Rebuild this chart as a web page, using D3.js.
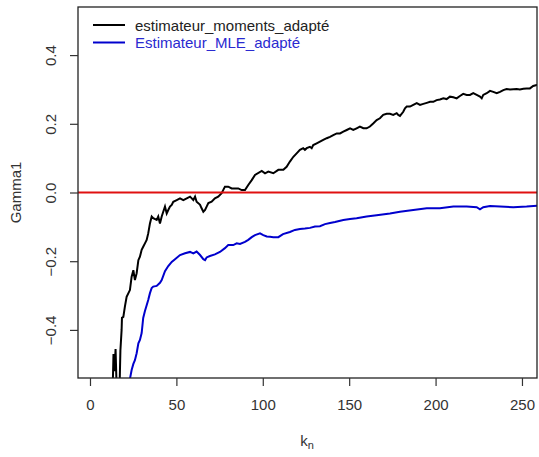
<!DOCTYPE html>
<html>
<head>
<meta charset="utf-8">
<script src="https://cdn.jsdelivr.net/npm/d3@7"></script>
<style>
  body { margin: 0; background: #fff; }
  svg { font-family: "Liberation Sans", Arial, sans-serif; }
</style>
</head>
<body>
<svg id="chart" width="539" height="457"></svg>
<script>

// k values and gamma estimates
var kMoments = [13.0, 13.6, 14.2, 14.8, 15.6, 16.4, 17.2, 17.6, 18.3, 18.5, 19.3, 20.2, 21.2, 23.1, 24.1, 25.1, 26.0, 27.0, 28.0, 28.9,
  29.9, 30.8, 31.8, 32.8, 33.7, 34.7, 35.7, 36.6, 38.6, 39.5, 40.5, 41.5, 42.4, 43.4, 44.4, 45.3, 46.3, 47.3, 48.2, 50.2,
  52.1, 54.0, 56.0, 57.9, 58.9, 59.8, 60.8, 61.7, 62.7, 63.7, 64.6, 65.6, 66.6, 67.5, 68.5, 70.4, 72.3, 74.2, 76.2, 78.1,
  80.0, 82.0, 83.9, 85.8, 87.8, 89.7, 91.6, 93.6, 95.5, 99.4, 101.3, 103.2, 106.1, 109.0, 111.9, 113.8, 115.7, 117.7, 119.6, 121.5,
  123.4, 124.4, 125.4, 127.3, 128.3, 129.2, 131.2, 133.1, 135.0, 137.0, 138.9, 140.8, 142.8, 144.7, 146.6, 148.6, 150.5, 152.4, 154.3, 156.2,
  158.2, 160.1, 162.0, 163.9, 165.9, 167.8, 169.7, 171.7, 173.6, 175.5, 177.5, 178.4, 179.4, 181.3, 182.3, 183.3, 185.2, 187.1, 189.1, 191.0,
  192.9, 194.9, 196.8, 198.7, 200.6, 202.5, 204.5, 206.4, 208.3, 210.3, 212.2, 214.1, 216.0, 218.0, 219.9, 221.8, 223.8, 225.7, 226.7, 227.6,
  229.6, 231.5, 233.4, 235.4, 237.3, 239.2, 241.1, 243.1, 246.9, 248.8, 250.8, 252.7, 254.6, 256.5, 258.5, 259.8]

var gammaMoments = [-0.60, -0.470, -0.52, -0.456, -0.60, -0.60, -0.55, -0.46, -0.400, -0.365, -0.362, -0.332, -0.304, -0.284, -0.245, -0.226, -0.255, -0.235, -0.197, -0.187,
  -0.167, -0.158, -0.148, -0.138, -0.119, -0.090, -0.070, -0.075, -0.080, -0.070, -0.090, -0.070, -0.056, -0.041, -0.061, -0.051, -0.041, -0.036, -0.027, -0.022,
  -0.017, -0.022, -0.017, -0.012, -0.017, -0.022, -0.012, -0.027, -0.031, -0.036, -0.046, -0.056, -0.051, -0.041, -0.031, -0.027, -0.017, -0.012, -0.002, 0.017,
  0.017, 0.012, 0.012, 0.012, 0.007, 0.007, 0.022, 0.036, 0.051, 0.063, 0.056, 0.061, 0.056, 0.066, 0.066, 0.075, 0.090, 0.104, 0.114, 0.124,
  0.129, 0.124, 0.129, 0.133, 0.129, 0.138, 0.143, 0.148, 0.153, 0.158, 0.162, 0.167, 0.172, 0.172, 0.177, 0.182, 0.187, 0.182, 0.187, 0.192,
  0.187, 0.187, 0.192, 0.201, 0.211, 0.216, 0.226, 0.229, 0.229, 0.226, 0.231, 0.226, 0.223, 0.235, 0.245, 0.250, 0.250, 0.255, 0.260, 0.255,
  0.258, 0.261, 0.264, 0.264, 0.269, 0.271, 0.274, 0.272, 0.279, 0.277, 0.274, 0.281, 0.287, 0.284, 0.284, 0.289, 0.284, 0.279, 0.274, 0.284,
  0.289, 0.296, 0.293, 0.289, 0.293, 0.298, 0.301, 0.300, 0.301, 0.300, 0.302, 0.303, 0.303, 0.310, 0.313, 0.313]

var kMLE = [22.0, 23.1, 24.1, 25.1, 26.0, 27.0, 28.0, 28.9, 29.9, 30.8, 31.8, 32.8, 33.7, 34.7, 35.7, 36.6, 38.6, 40.5, 41.5, 43.4,
  45.3, 47.3, 49.2, 52.1, 55.0, 57.9, 59.8, 61.7, 63.7, 65.6, 66.6, 67.5, 69.4, 72.3, 75.2, 78.1, 80.0, 82.9, 84.9, 86.8,
  89.7, 91.6, 93.6, 95.5, 98.4, 100.3, 102.3, 104.2, 106.1, 109.0, 111.7, 115.7, 118.6, 121.5, 124.4, 127.3, 130.2, 133.1, 136.0, 138.9,
  141.8, 146.6, 150.5, 154.3, 160.1, 165.9, 173.6, 179.4, 187.1, 194.9, 202.5, 210.3, 218.0, 223.8, 225.7, 227.6, 231.5, 237.3, 245.0, 252.7, 259.8]

var gammaMLE = [-0.575, -0.543, -0.517, -0.499, -0.488, -0.468, -0.439, -0.429, -0.409, -0.365, -0.345, -0.328, -0.313, -0.293, -0.278, -0.274, -0.272, -0.263, -0.255, -0.229,
  -0.214, -0.202, -0.194, -0.182, -0.177, -0.173, -0.177, -0.172, -0.182, -0.194, -0.197, -0.189, -0.185, -0.180, -0.173, -0.162, -0.153, -0.153, -0.148, -0.150,
  -0.144, -0.138, -0.130, -0.124, -0.119, -0.124, -0.128, -0.129, -0.130, -0.130, -0.121, -0.115, -0.109, -0.106, -0.105, -0.103, -0.099, -0.098, -0.092, -0.089,
  -0.086, -0.080, -0.077, -0.075, -0.070, -0.066, -0.061, -0.056, -0.051, -0.046, -0.046, -0.041, -0.041, -0.043, -0.049, -0.043, -0.039, -0.041, -0.043, -0.041, -0.038]

var xTicks = [0, 50, 100, 150, 200, 250]
var yTicks = [-0.4, -0.2, 0.0, 0.2, 0.4]
var seriesNames = ["estimateur_moments_adapté", "Estimateur_MLE_adapté"]
var seriesColors = ["#000000", "#0000cd"]

var dimensions = ({
  width: 539,
  height: 457,
  margin: { top: 7, right: 2, bottom: 79, left: 78 }
})
dimensions.boundedWidth = dimensions.width - dimensions.margin.left - dimensions.margin.right
dimensions.boundedHeight = dimensions.height - dimensions.margin.top - dimensions.margin.bottom

var svg = d3.select("#chart")

var xScale = d3.scaleLinear()
  .domain([-6.94, 258.7])
  .range([dimensions.margin.left, dimensions.margin.left + dimensions.boundedWidth])

var yScale = d3.scaleLinear()
  .domain([-0.54, 0.54])
  .range([dimensions.margin.top + dimensions.boundedHeight, dimensions.margin.top])

svg.append("clipPath").attr("id", "plotclip")
  .append("rect")
  .attr("x", dimensions.margin.left)
  .attr("y", dimensions.margin.top)
  .attr("width", dimensions.boundedWidth)
  .attr("height", dimensions.boundedHeight)

var plot = svg.append("g").attr("clip-path", "url(#plotclip)")

var line = d3.line()
  .x(function(d) { return xScale(d[0]) })
  .y(function(d) { return yScale(d[1]) })

plot.append("path")
  .datum(d3.zip(kMoments, gammaMoments))
  .attr("d", line)
  .attr("fill", "none")
  .attr("stroke", seriesColors[0])
  .attr("stroke-width", 2)

plot.append("path")
  .datum(d3.zip(kMLE, gammaMLE))
  .attr("d", line)
  .attr("fill", "none")
  .attr("stroke", seriesColors[1])
  .attr("stroke-width", 2)

// reference line at 0
plot.append("line")
  .attr("x1", dimensions.margin.left)
  .attr("x2", dimensions.margin.left + dimensions.boundedWidth)
  .attr("y1", yScale(0))
  .attr("y2", yScale(0))
  .attr("stroke", "#e01010")
  .attr("stroke-width", 2)

// box
svg.append("rect")
  .attr("x", dimensions.margin.left)
  .attr("y", dimensions.margin.top)
  .attr("width", dimensions.boundedWidth)
  .attr("height", dimensions.boundedHeight)
  .attr("fill", "none")
  .attr("stroke", "#222")
  .attr("stroke-width", 1.3)

var xAxis = d3.axisBottom(xScale).tickValues(xTicks).tickSize(8).tickPadding(13).tickSizeOuter(0)
var gx = svg.append("g")
  .attr("transform", "translate(0," + (dimensions.margin.top + dimensions.boundedHeight) + ")")
  .call(xAxis)
gx.select(".domain").remove()
gx.selectAll("line").attr("stroke", "#333").attr("stroke-width", 1.2)
gx.selectAll("text").attr("font-size", 15).attr("fill", "#333").attr("font-family", "Liberation Sans, Arial, sans-serif")

var yAxis = d3.axisLeft(yScale).tickValues(yTicks).tickSize(8).tickFormat(d3.format(".1f"))
var gy = svg.append("g")
  .attr("transform", "translate(" + dimensions.margin.left + ",0)")
  .call(yAxis)
gy.select(".domain").remove()
gy.selectAll("line").attr("stroke", "#333").attr("stroke-width", 1.2)
gy.selectAll("text")
  .attr("font-size", 15)
  .attr("fill", "#333")
  .attr("font-family", "Liberation Sans, Arial, sans-serif")
  .attr("text-anchor", "middle")
  .attr("x", 0)
  .attr("dy", 0)
  .attr("transform", "translate(-22,0) rotate(-90)")

// axis titles
var xTitle = svg.append("text")
  .attr("x", 307)
  .attr("y", 446)
  .attr("text-anchor", "middle")
  .attr("font-size", 15)
  .attr("fill", "#333")
xTitle.append("tspan").text("k")
xTitle.append("tspan").attr("font-size", 11).attr("dy", 3).text("n")

svg.append("text")
  .attr("transform", "translate(21," + yScale(0) + ") rotate(-90)")
  .attr("text-anchor", "middle")
  .attr("font-size", 15)
  .attr("fill", "#333")
  .text("Gamma1")

// legend
var legend = svg.append("g")
seriesNames.forEach(function(name, i) {
  var ly = 25 + i * 17.5
  legend.append("line")
    .attr("x1", 93).attr("x2", 125)
    .attr("y1", ly).attr("y2", ly)
    .attr("stroke", seriesColors[i])
    .attr("stroke-width", 2)
  legend.append("text")
    .attr("x", 135)
    .attr("y", ly + 5.5)
    .attr("font-size", 15)
    .attr("fill", i == 0 ? "#222" : "#2a2ad0")
    .text(name)
})

</script>
</body>
</html>
